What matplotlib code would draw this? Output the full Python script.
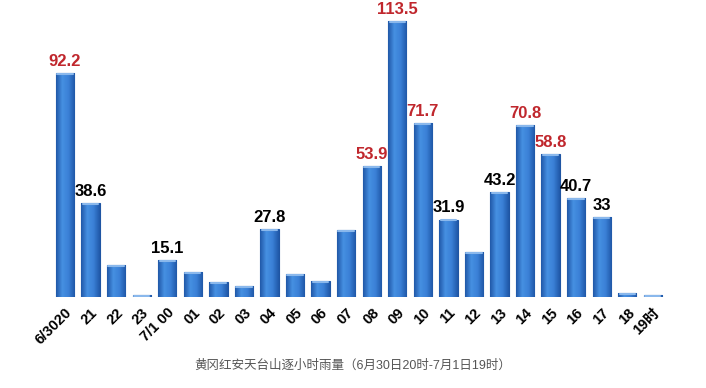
import numpy as np
import matplotlib.pyplot as plt
from matplotlib.colors import LinearSegmentedColormap

# hourly rainfall at Tiantaishan, Hongan (mm)
hours = ['6/3020', '21', '22', '23', '7/1 00', '01', '02', '03', '04', '05', '06', '07',
         '08', '09', '10', '11', '12', '13', '14', '15', '16', '17', '18', '19时']
rain = [92.2, 38.6, 13.2, 0.8, 15.1, 10.3, 6.2, 4.5, 27.8, 9.5, 6.6, 27.6,
        53.9, 113.5, 71.7, 31.9, 18.5, 43.2, 70.8, 58.8, 40.7, 33, 1.6, 0.8]
labelled = [0, 1, 4, 8, 12, 13, 14, 15, 17, 18, 19, 20, 21]

fonts = ['Liberation Sans', 'Noto Sans CJK SC', 'DejaVu Sans']
plt.rcParams['font.family'] = fonts

fig = plt.figure(figsize=(7.06, 3.88), dpi=100)
ax = fig.add_axes([0.0704, 0.2345, 0.876, 0.7515])

x = list(range(len(hours)))
bars = ax.bar(x, rain, width=0.72, color='#3377cc', edgecolor='#1f55a3', linewidth=0.8)

# cylinder-ish shading: darker edges, lighter middle
cmap = LinearSegmentedColormap.from_list('cyl', ['#2058a8', '#4690e2', '#3a80d6', '#2058a8'])
grad = np.linspace(0, 1, 64).reshape(1, -1)
for b in bars:
    x0, w, h = b.get_x(), b.get_width(), b.get_height()
    im = ax.imshow(grad, cmap=cmap, aspect='auto', extent=(x0, x0 + w, 0, h), zorder=2)
    im.set_clip_path(b)
    ax.plot([x0 + 0.06, x0 + w - 0.06], [h - 0.4, h - 0.4], color='#8ab8ec', lw=1.5,
            solid_capstyle='round', zorder=3)

for i in labelled:
    v = rain[i]
    col = '#c0272d' if v > 50 else 'black'
    ax.annotate('%g' % v, (i, v), xytext=(0, 3), textcoords='offset points',
                ha='center', va='bottom', fontsize=12, fontweight='bold', color=col)

ax.set_xlim(-0.6, 23.6)
ax.set_ylim(0, 120)
ax.set_xticks(x)
ax.set_xticklabels(hours, rotation=45, ha='right', rotation_mode='anchor',
                   fontsize=10.5, fontweight='bold')
ax.tick_params(axis='x', length=0, pad=6)
ax.set_yticks([])
for s in ax.spines.values():
    s.set_visible(False)

fig.text(0.5, 0.058, '黄冈红安天台山逐小时雨量（6月30日20时-7月1日19时）',
         ha='center', va='center', fontsize=9, color='#555555')

fig.savefig('out.png', dpi=100)
